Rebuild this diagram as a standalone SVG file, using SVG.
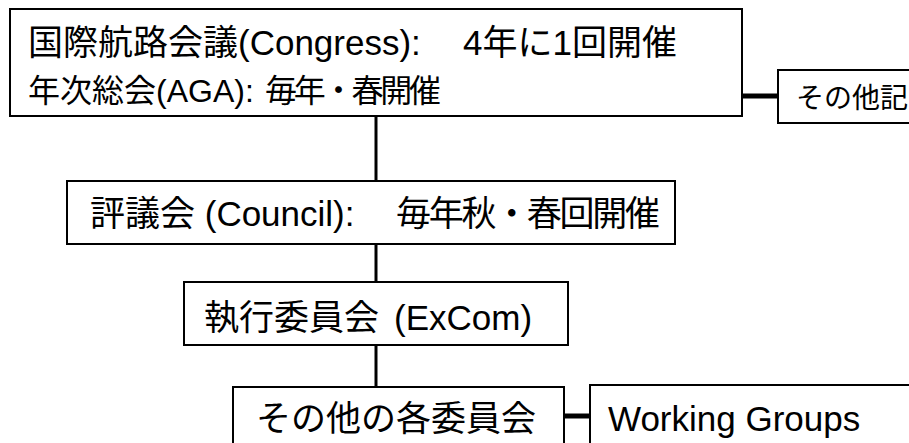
<svg xmlns="http://www.w3.org/2000/svg" width="909" height="443" viewBox="0 0 909 443">
<style>
.box{fill:#fff;stroke:#000;stroke-width:2}
.t{font-family:"Liberation Sans","Noto Sans CJK JP",sans-serif;font-size:35px;fill:#000}
.c{stroke:#000;stroke-width:3;fill:none}
.h{stroke-width:5}
</style>
<rect width="909" height="443" fill="#fff"/>
<g id="connectors">
<line class="c" x1="376" y1="116" x2="376" y2="181"/>
<line class="c" x1="376" y1="244" x2="376" y2="282"/>
<line class="c" x1="376" y1="345" x2="376" y2="387"/>
<line class="c h" x1="742" y1="96" x2="778" y2="96"/>
<line class="c h" x1="564" y1="416" x2="590" y2="416"/>
</g>
<g id="congress">
<rect class="box" x="10" y="9" width="732" height="107"/>
<text class="t" y="55"><tspan x="28">国際航路会議(Congress):</tspan><tspan x="463">4年に1回開催</tspan></text>
<text class="t" y="102" style="font-size:32px"><tspan x="28">年次総会(AGA):</tspan><tspan x="265" textLength="176" lengthAdjust="spacing">毎年・春開催</tspan></text>
</g>
<g id="other-records">
<rect class="box" x="778" y="70" width="140" height="53"/>
<text class="t" x="796" y="108" style="font-size:28px">その他記</text>
</g>
<g id="council">
<rect class="box" x="67" y="181" width="608" height="63"/>
<text class="t" y="226"><tspan x="90">評議会 (Council):</tspan><tspan x="396" textLength="264" lengthAdjust="spacing">毎年秋・春回開催</tspan></text>
</g>
<g id="excom">
<rect class="box" x="184" y="282" width="384" height="63"/>
<text class="t" y="330"><tspan x="204">執行委員会</tspan><tspan x="394">(ExCom)</tspan></text>
</g>
<g id="committees">
<rect class="box" x="233" y="387" width="331" height="70"/>
<text class="t" x="256" y="431">その他の各委員会</text>
</g>
<g id="working-groups">
<rect class="box" x="590" y="385" width="330" height="70"/>
<text class="t" x="608" y="431">Working Groups</text>
</g>
</svg>
